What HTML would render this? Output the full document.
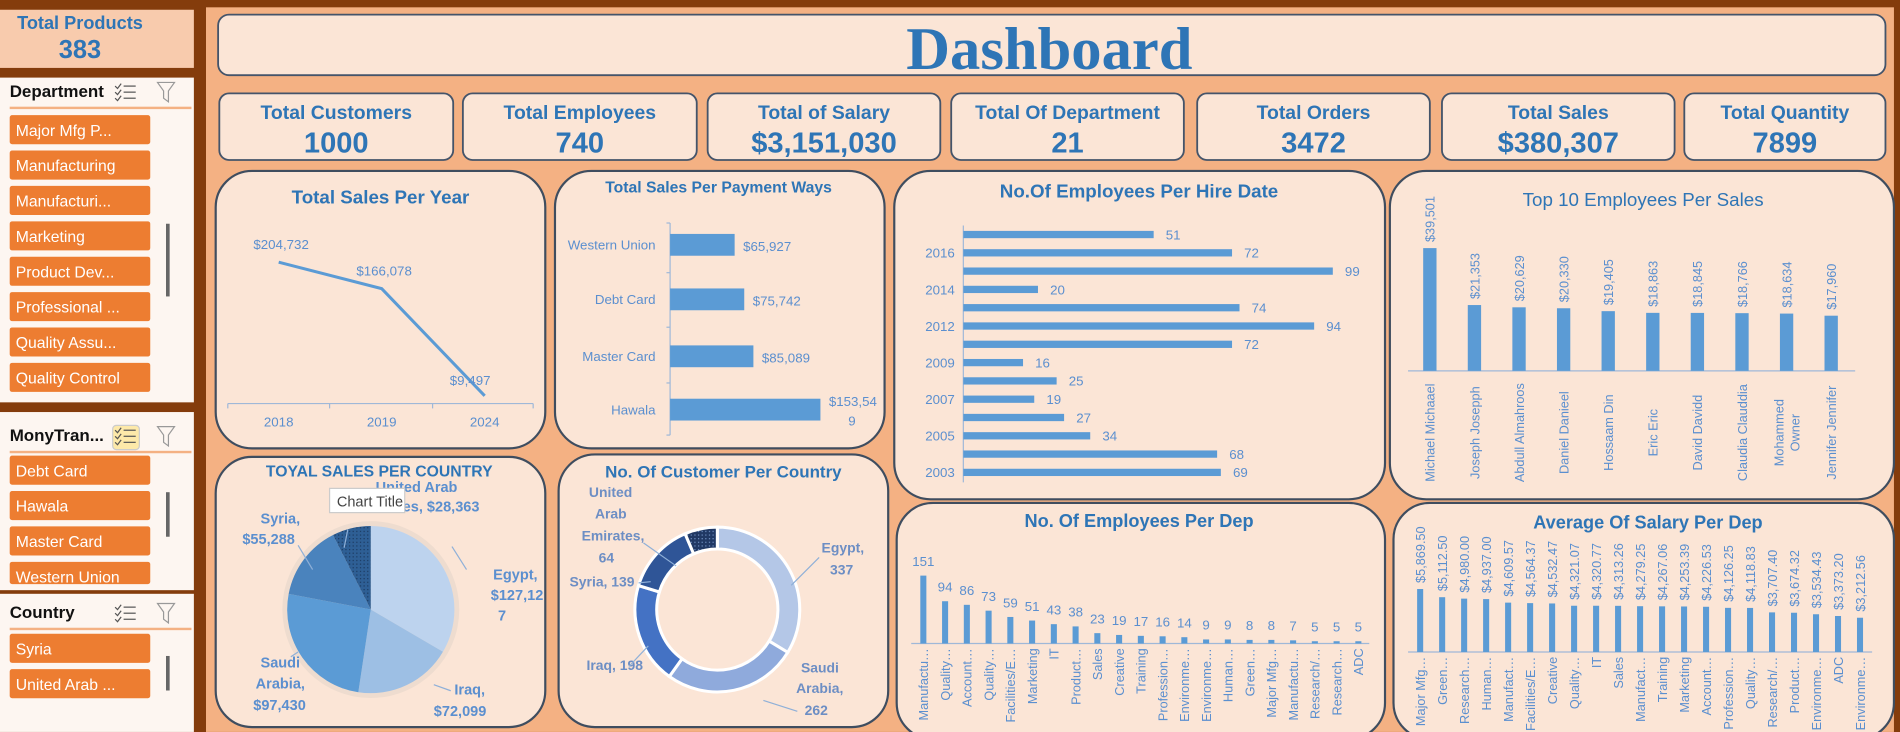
<!DOCTYPE html>
<html><head><meta charset="utf-8"><style>
html,body{margin:0;padding:0;width:1900px;height:732px;overflow:hidden;background:#843c0c}
svg{display:block}
text{font-family:"Liberation Sans",sans-serif}
</style></head><body>
<svg id="dash" width="1900" height="732" viewBox="0 0 1568 604" xmlns="http://www.w3.org/2000/svg">
<defs>
<pattern id="dots" width="3" height="3" patternUnits="userSpaceOnUse"><rect width="3" height="3" fill="#2e5f95"/><rect width="1" height="1" fill="#1b3a60"/></pattern>
<pattern id="dots2" width="3" height="3" patternUnits="userSpaceOnUse"><rect width="3" height="3" fill="#203864"/><rect width="1" height="1" fill="#6f8fc0"/></pattern>
</defs>
<rect x="0" y="0" width="1568" height="604" fill="#843c0c"/>
<rect x="170" y="6" width="1393" height="598" fill="#f4b183"/>
<g>
<rect x="0" y="8" width="160" height="48" fill="#f8cbad"/>
<text x="66" y="24" text-anchor="middle" font-size="15" font-weight="bold" fill="#2e75b6">Total Products</text>
<text x="66" y="48" text-anchor="middle" font-size="21" font-weight="bold" fill="#2e75b6">383</text>
</g>
<g id="slicers"></g>
<g>
<rect x="180" y="12" width="1376" height="50" rx="9" fill="#fbe5d6" stroke="#44546a" stroke-width="1.5"/>
<text x="866" y="57" text-anchor="middle" font-size="50" font-weight="bold" fill="#2e75b6" style="font-family:'Liberation Serif',serif">Dashboard</text>
</g>
<g id="kpis"></g>
<g id="panels"></g>
<g id="charts"></g>
</svg>
<script>
const NS='http://www.w3.org/2000/svg';
function el(tag,attrs,parent,txt){const e=document.createElementNS(NS,tag);for(const k in attrs)e.setAttribute(k,attrs[k]);if(txt!==undefined)e.textContent=txt;(parent||document.getElementById('charts')).appendChild(e);return e;}
const BLUE='#2e75b6', LBL='#5b8fcf', BAR='#5b9bd5';

const kpiTitles=['Total Customers','Total Employees','Total of Salary','Total Of Department','Total Orders','Total Sales','Total Quantity'];
const kpiValues=['1000','740','$3,151,030','21','3472','$380,307','7899'];
const yearCats=['2018','2019','2024'];
const yearVals=[204732,166078,9497];
const payCats=['Western Union','Debt Card','Master Card','Hawala'];
const payVals=[65927,75742,85089,153549];
const hireCats=['2017','2016','2015','2014','2013','2012','2010','2009','2008','2007','2006','2005','2004','2003'];
const hireLabels=['','2016','','2014','','2012','','2009','','2007','','2005','','2003'];
const hireVals=[51,72,99,20,74,94,72,16,25,19,27,34,68,69];
const topNames=['Michael Michaael','Joseph Josepph','Abdull Almahroos','Daniel Danieel','Hossaam Din','Eric Eric','David Davidd','Claudia Clauddia','Mohammed|Owner','Jennifer Jennifer'];
const topVals=[39501,21353,20629,20330,19405,18863,18845,18766,18634,17960];
const countryCats=['Egypt','Iraq','Saudi Arabia','Syria','United Arab Emirates'];
const countrySales=[127127,72099,97430,55288,28363];
const custCats=['Egypt','Saudi Arabia','Iraq','Syria','United Arab Emirates'];
const custVals=[337,262,198,139,64];
const depCats=['Manufactu…','Quality…','Account…','Quality…','Facilities/E…','Marketing','IT','Product…','Sales','Creative','Training','Profession…','Environme…','Environme…','Human…','Green…','Major Mfg…','Manufactu…','Research/…','Research…','ADC'];
const depVals=[151,94,86,73,59,51,43,38,23,19,17,16,14,9,9,8,8,7,5,5,5];
const salCats=['Major Mfg…','Green…','Research…','Human…','Manufact…','Facilities/E…','Creative','Quality…','IT','Sales','Manufact…','Training','Marketing','Account…','Profession…','Quality…','Research/…','Product…','Environme…','ADC','Environme…'];
const salVals=[5869.50,5112.50,4980.00,4937.00,4609.57,4564.37,4532.47,4321.07,4320.77,4313.26,4279.25,4267.06,4253.39,4226.53,4126.25,4118.83,3707.40,3674.32,3534.43,3373.20,3212.56];
const deptItems=['Major Mfg P...','Manufacturing','Manufacturi...','Marketing','Product Dev...','Professional ...','Quality Assu...','Quality Control'];
const payItems=['Debt Card','Hawala','Master Card','Western Union'];
const countryItems=['Syria','United Arab ...'];

const fmt=v=>'$'+v.toLocaleString('en-US');

const sl=document.getElementById('slicers');
function slicer(name,title,y0,h,lineY,items,itemY,icoHi){
  const g=el('g',{},sl);
  
  
  el('rect',{x:0,y:y0,width:160,height:h,fill:'#fdf6f1'},g);
  el('text',{x:8,y:lineY-8,'font-size':14,'font-weight':'bold',fill:'#111'},g,title);
  if(icoHi) el('rect',{x:93,y:lineY-21,width:22,height:20,rx:3,fill:'#fde9a9',stroke:'#ccc'},g);
  const ic=el('g',{},g);
  
  
  for(let i=0;i<3;i++){el('line',{x1:102,y1:lineY-17+i*5,x2:112,y2:lineY-17+i*5,stroke:'#555','stroke-width':1},ic);el('path',{d:`M95 ${lineY-17+i*5} l2 2 l3 -4`,stroke:'#555',fill:'none','stroke-width':1},ic);}
  const cf=el('path',{d:`M130 ${lineY-20} h14 l-5 7 v9 l-4 -3 v-6 z`,fill:'none',stroke:'#999','stroke-width':1},g);
  
  
  el('rect',{x:8,y:lineY,width:150,height:2,fill:'#f4b183'},g);
  items.forEach((t,i)=>{
    const y=itemY+i*29.2;
    if(y>y0+h-5) return;
    const b=el('g',{},g);
    
    
    const hh=Math.min(24,y0+h-5-y);
    el('rect',{x:8,y:y,width:116,height:hh,rx:2,fill:'#ed7d31'},b);
    el('text',{x:13,y:y+17,'font-size':13,fill:'#fff'},b,t);
  });
  el('rect',{x:137,y:y0+(h*0.45),width:3,height:Math.min(60,h*0.25),fill:'#666'},g);
}
slicer('department-slicer','Department',64,268,88,deptItems,95,false);
slicer('payment-slicer','MonyTran...',340,147,372,payItems,376,true);
slicer('country-slicer','Country',490,114,518,countryItems,523,false);

const kx=[181,382,584,785,988,1190,1390], kw=[193,193,192,192,192,192,166];
const kg=document.getElementById('kpis');
kpiTitles.forEach((t,i)=>{
  const g=el('g',{},kg);
  
  
  el('rect',{x:kx[i],y:77,width:kw[i],height:55,rx:8,fill:'#fbe5d6',stroke:'#44546a','stroke-width':1.5},g);
  el('text',{x:kx[i]+kw[i]/2,y:98,'text-anchor':'middle','font-size':16,'font-weight':'bold',fill:BLUE},g,t);
  el('text',{x:kx[i]+kw[i]/2,y:126,'text-anchor':'middle','font-size':24,'font-weight':'bold',fill:BLUE},g,kpiValues[i]);
});

const pg=document.getElementById('panels');
const panels=[
 ['sales-per-year-panel',178,141,272,229,'Total Sales Per Year',314,168,15.5,'bold'],
 ['payment-ways-panel',458,141,272,229,'Total Sales Per Payment Ways',593,159,13,'bold'],
 ['hire-date-panel',738,141,405,271,'No.Of Employees Per Hire Date',940,163,15.5,'bold'],
 ['top-employees-panel',1147,141,416,271,'Top 10 Employees Per Sales',1356,170,15.5,'normal'],
 ['sales-per-country-panel',178,377,272,223,'TOYAL SALES PER COUNTRY',313,393,13,'bold'],
 ['customers-per-country-panel',461,375,272,225,'No. Of Customer Per Country',597,394,14,'bold'],
 ['employees-per-dep-panel',740,415,403,195,'No. Of Employees Per Dep',940,435,15,'bold'],
 ['salary-per-dep-panel',1150,415,413,195,'Average Of Salary Per Dep',1360,436,15,'bold']];
panels.forEach(p=>{
  const g=el('g',{},pg);
  
  
  el('rect',{x:p[1],y:p[2],width:p[3],height:p[4],rx:30,fill:'#fbe5d6',stroke:'#3f4d5f','stroke-width':1.8},g);
  const t=el('text',{x:p[6],y:p[7],'text-anchor':'middle','font-size':p[8],'font-weight':p[9],fill:BLUE},g,p[5]);
  
  
});

(function(){
  const x=i=>230+i*85, y=v=>332-v*0.000565;
  const g=el('g',{});
  
  
  el('line',{x1:188,y1:333,x2:440,y2:333,stroke:'#9fb8d8'},g);
  [188,272,357,440].forEach(t=>el('line',{x1:t,y1:333,x2:t,y2:337,stroke:'#9fb8d8'},g));
  const pts=yearVals.map((v,i)=>x(i)+','+y(v)).join(' ');
  const pl=el('polyline',{points:pts,fill:'none',stroke:BAR,'stroke-width':2.5},g);
  
  
  yearCats.forEach((c,i)=>el('text',{x:x(i),y:352,'text-anchor':'middle','font-size':11,fill:LBL},g,c));
  yearVals.forEach((v,i)=>el('text',{x:x(i)+2-(i==2?14:0),y:y(v)-11+(i==2?2:0),'font-size':11,'text-anchor':'middle',fill:LBL},g,fmt(v)));
})();

(function(){
  const x=v=>553+v*0.000808, yc=[202,247,294,338];
  const g=el('g',{});
  
  
  el('line',{x1:553,y1:184,x2:553,y2:359,stroke:'#9fb8d8'},g);
  [184,225,270,316,359].forEach(t=>el('line',{x1:550,y1:t,x2:553,y2:t,stroke:'#9fb8d8'},g));
  payVals.forEach((v,i)=>{
    const r=el('rect',{x:553,y:yc[i]-9,width:x(v)-553,height:18,fill:BAR},g);
    
    
    el('text',{x:541,y:yc[i]+4,'text-anchor':'end','font-size':11,fill:LBL},g,payCats[i]);
    if(i<3) el('text',{x:x(v)+7,y:yc[i]+5,'font-size':11,fill:LBL},g,fmt(v));
  });
  el('text',{x:684,y:335,'font-size':11,fill:LBL},g,'$153,54');
  el('text',{x:700,y:351,'font-size':11,fill:LBL},g,'9');
})();

(function(){
  const x=v=>795+v*3.08, y=i=>193.5+i*15.1;
  const g=el('g',{});
  
  
  el('line',{x1:795,y1:186,x2:795,y2:398,stroke:'#9fb8d8'},g);
  hireVals.forEach((v,i)=>{
    const r=el('rect',{x:795,y:y(i)-3,width:x(v)-795,height:6,fill:BAR},g);
    
    
    el('text',{x:x(v)+10,y:y(i)+4,'font-size':11,fill:LBL},g,v);
    if(hireLabels[i]) el('text',{x:788,y:y(i)+4,'text-anchor':'end','font-size':11,fill:LBL},g,hireLabels[i]);
  });
})();

(function(){
  const x=i=>1180+i*36.8, y=v=>307-v*0.00259;
  const g=el('g',{});
  
  
  el('line',{x1:1162,y1:306,x2:1531,y2:306,stroke:'#9fb8d8'},g);
  topVals.forEach((v,i)=>{
    const r=el('rect',{x:x(i)-5.5,y:y(v),width:11,height:306-y(v),fill:BAR},g);
    
    
    el('text',{transform:`translate(${x(i)+4},${y(v)-5}) rotate(-90)`,'font-size':10.5,fill:LBL},g,fmt(v));
    const parts=topNames[i].split('|');
    parts.forEach((p,j)=>el('text',{transform:`translate(${x(i)+4+(j-(parts.length-1)/2)*13},357) rotate(-90)`,'text-anchor':'middle','font-size':10.5,fill:LBL},g,p));
  });
})();

function arcPath(cx,cy,r,r0,a0,a1){
  const p=(a,rr)=>[cx+rr*Math.sin(a),cy-rr*Math.cos(a)];
  const L=a1-a0>Math.PI?1:0;
  const [x0,y0]=p(a0,r),[x1,y1]=p(a1,r);
  if(!r0) return `M${cx},${cy}L${x0},${y0}A${r},${r} 0 ${L} 1 ${x1},${y1}Z`;
  const [x2,y2]=p(a1,r0),[x3,y3]=p(a0,r0);
  return `M${x0},${y0}A${r},${r} 0 ${L} 1 ${x1},${y1}L${x2},${y2}A${r0},${r0} 0 ${L} 0 ${x3},${y3}Z`;
}
(function(){
  const cx=306,cy=503,r=69, cols=['#bdd3ee','#9dbfe4','#5b9bd5','#4a83bd','url(#dots)'];
  const g=el('g',{});
  
  
  el('circle',{cx,cy,r:r+4,fill:'#eedccf'},g);
  const tot=countrySales.reduce((a,b)=>a+b,0); let a=0;
  countrySales.forEach((v,i)=>{
    const a1=a+v/tot*2*Math.PI;
    const s=el('path',{d:arcPath(cx,cy,r,0,a,a1),fill:cols[i]},g);
    
    
    a=a1;
  });
  const L=[['Egypt,',407,478],['$127,12',405,495],['7',411,512],['Iraq,',375,573],['$72,099',358,591],['Saudi',215,551],['Arabia,',211,568],['$97,430',209,586],['Syria,',215,432],['$55,288',200,449],['United Arab',310,406],['Emirates, $28,363',295,422]];
  L.forEach(t=>el('text',{x:t[1],y:t[2],'font-size':12,'font-weight':'bold',fill:LBL},g,t[0]));
  ['M373 451 L385 470','M358 565 L372 570','M240 542 L246 538','M246 450 L258 470','M287 437 L284 452'].forEach(d=>el('path',{d,stroke:'#8fb0d8',fill:'none'},g));
  const tip=el('g',{},g);
  
  
  el('rect',{x:272,y:403,width:62,height:20,fill:'#fff',stroke:'#ccc'},tip);
  el('text',{x:278,y:418,'font-size':12,fill:'#444'},tip,'Chart Title');
})();

(function(){
  const cx=592,cy=503,r=68,r0=50, cols=['#b4c7e7','#8faadc','#4472c4','#2f5597','url(#dots2)'];
  const g=el('g',{});
  
  
  const tot=custVals.reduce((a,b)=>a+b,0); let a=0;
  custVals.forEach((v,i)=>{
    const a1=a+v/tot*2*Math.PI;
    const s=el('path',{d:arcPath(cx,cy,r,r0,a,a1),fill:cols[i],stroke:'#fff','stroke-width':2.5},g);
    
    
    a=a1;
  });
  const L=[['Egypt,',678,456],['337',685,474],['Saudi',661,555],['Arabia,',657,572],['262',664,590],['Iraq, 198',484,553],['Syria, 139',470,484],['United',486,410],['Arab',491,428],['Emirates,',480,446],['64',494,464]];
  L.forEach(t=>el('text',{x:t[1],y:t[2],'font-size':11.5,'font-weight':'bold',fill:'#6d8ec4'},g,t[0]));
  ['M676 460 L653 483','M658 587 L630 578','M519 550 L535 533','M527 481 L537 480','M531 448 L558 467'].forEach(d=>el('path',{d,stroke:'#8fb0d8',fill:'none'},g));
})();

(function(){
  const x=i=>762+i*17.95, y=v=>531-v*0.371;
  const g=el('g',{});
  
  
  el('line',{x1:752,y1:531,x2:1130,y2:531,stroke:'#9fb8d8'},g);
  depVals.forEach((v,i)=>{
    const r=el('rect',{x:x(i)-2.5,y:y(v),width:5,height:531-y(v),fill:BAR},g);
    
    
    el('text',{x:x(i),y:y(v)-8,'text-anchor':'middle','font-size':11,fill:LBL},g,v);
    el('text',{transform:`translate(${x(i)+4},535) rotate(-90)`,'text-anchor':'end','font-size':10.5,fill:LBL},g,depCats[i]);
  });
})();

(function(){
  const x=i=>1172+i*18.15, y=v=>538.4-v*0.00892;
  const g=el('g',{});
  
  
  el('line',{x1:1162,y1:538,x2:1545,y2:538,stroke:'#9fb8d8'},g);
  salVals.forEach((v,i)=>{
    const r=el('rect',{x:x(i)-2.5,y:y(v),width:5,height:538-y(v),fill:BAR},g);
    
    
    const s='$'+v.toLocaleString('en-US',{minimumFractionDigits:2,maximumFractionDigits:2});
    el('text',{transform:`translate(${x(i)+4},${y(v)-5}) rotate(-90)`,'font-size':10.5,fill:LBL},g,s);
    el('text',{transform:`translate(${x(i)+4},542) rotate(-90)`,'text-anchor':'end','font-size':10.5,fill:LBL},g,salCats[i]);
  });
})();
</script>
</body></html>
